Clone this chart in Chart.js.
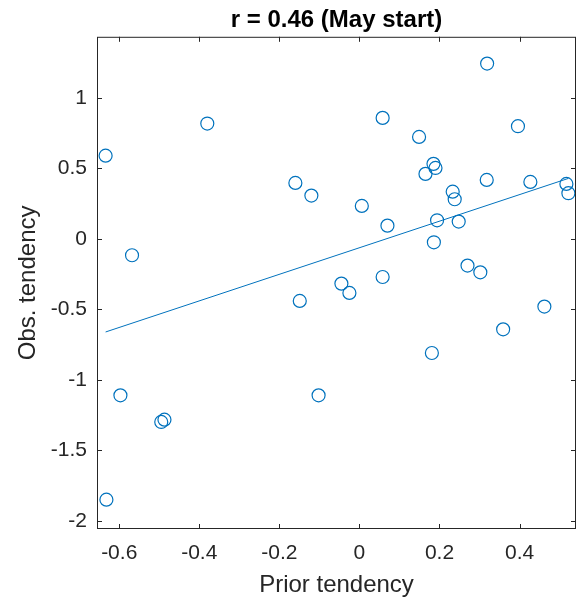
<!DOCTYPE html>
<html>
<head>
<meta charset="utf-8">
<script src="https://cdn.jsdelivr.net/npm/chart.js@4"></script>
<style>
  html, body { margin: 0; padding: 0; background: #fff; }
  #wrap { width: 578px; height: 606px; }
</style>
</head>
<body>
<div id="wrap"><canvas id="myChart"></canvas></div>
<script>
// values
const priorX = [-0.634, -0.380, -0.160, -0.120, -0.568, 0.319, 0.058, 0.396, 0.149, 0.185,
                0.190, 0.165, 0.318, 0.427, 0.517, 0.522, 0.233, 0.238, 0.006, 0.070,
                0.194, 0.248, 0.186, 0.270, 0.302, -0.045, -0.025, 0.058, 0.181, 0.359,
                0.462, -0.149, -0.597, -0.102, -0.495, -0.487, -0.632];
const obsY = [0.590, 0.818, 0.397, 0.307, -0.116, 1.243, 0.858, 0.799, 0.723, 0.532,
              0.503, 0.461, 0.418, 0.404, 0.390, 0.324, 0.335, 0.281, 0.234, 0.094,
              0.132, 0.123, -0.024, -0.189, -0.237, -0.317, -0.383, -0.270, -0.809, -0.641,
              -0.480, -0.440, -1.109, -1.109, -1.298, -1.282, -1.849];
// fitted line ends
const fitX = [-0.634, 0.522];
const fitY = [-0.660, 0.429];

const xTicks = [-0.6, -0.4, -0.2, 0, 0.2, 0.4];
const yTicks = [-2, -1.5, -1, -0.5, 0, 0.5, 1];

const blue = '#0072BD';
const axisCol = '#262626';
const fnt = 'Liberation Sans, Arial, sans-serif';

function toPoints(xs, ys) {
    return xs.map((x, i) => ({x: x, y: ys[i]}));
}

// box round the plot with ticks pointing inwards
const boxPlugin = {
    id: 'box',
    afterDraw(chart) {
        const ctx = chart.ctx;
        const a = chart.chartArea;
        const sx = chart.scales.x, sy = chart.scales.y;
        const len = 5;
        ctx.save();
        ctx.strokeStyle = axisCol;
        ctx.lineWidth = 1;
        ctx.strokeRect(a.left + 0.5, a.top + 0.5, a.right - a.left - 1, a.bottom - a.top - 1);
        ctx.beginPath();
        xTicks.forEach(v => {
            let px = Math.round(sx.getPixelForValue(v)) + 0.5;
            ctx.moveTo(px, a.bottom); ctx.lineTo(px, a.bottom - len);
            ctx.moveTo(px, a.top); ctx.lineTo(px, a.top + len);
        });
        yTicks.forEach(v => {
            let py = Math.round(sy.getPixelForValue(v)) + 0.5;
            ctx.moveTo(a.left, py); ctx.lineTo(a.left + len, py);
            ctx.moveTo(a.right, py); ctx.lineTo(a.right - len, py);
        });
        ctx.stroke();
        ctx.restore();
    }
};

new Chart(document.getElementById('myChart'), {
    type: 'scatter',
    data: {
        datasets: [{
            data: toPoints(priorX, obsY),
            pointStyle: 'circle',
            pointRadius: 6.5,
            pointHoverRadius: 6.5,
            pointBorderWidth: 1.2,
            borderColor: blue,
            backgroundColor: 'rgba(0,0,0,0)',
            showLine: false
        }, {
            data: toPoints(fitX, fitY),
            showLine: true,
            pointRadius: 0,
            borderColor: blue,
            borderWidth: 1
        }]
    },
    options: {
        responsive: true,
        maintainAspectRatio: false,
        animation: false,
        layout: { autoPadding: false, padding: { left: 0, right: 2, top: 0, bottom: 0 } },
        plugins: {
            legend: { display: false },
            tooltip: { enabled: false },
            title: {
                display: true,
                fullSize: false,
                text: 'r = 0.46 (May start)',
                color: '#000',
                font: { family: fnt, size: 24, weight: 'bold' },
                padding: { top: 6, bottom: 2 }
            }
        },
        scales: {
            x: {
                type: 'linear',
                min: -0.6555,
                max: 0.541,
                afterBuildTicks: s => { s.ticks = xTicks.map(v => ({value: v})); },
                afterFit: s => { s.height = 77; s.paddingLeft = 0; s.paddingRight = 0; },
                grid: { display: false, drawTicks: false },
                border: { display: false },
                ticks: {
                    color: axisCol,
                    font: { family: fnt, size: 21 },
                    padding: 12,
                    maxRotation: 0,
                    callback: v => String(Math.round(v * 10) / 10)
                },
                title: {
                    display: true,
                    text: 'Prior tendency',
                    color: axisCol,
                    font: { family: fnt, size: 24 },
                    padding: { top: 0, bottom: 6 }
                }
            },
            y: {
                type: 'linear',
                min: -2.057,
                max: 1.433,
                afterBuildTicks: s => { s.ticks = yTicks.map(v => ({value: v})); },
                afterFit: s => { s.width = 97; s.paddingTop = 0; s.paddingBottom = 0; },
                grid: { display: false, drawTicks: false },
                border: { display: false },
                ticks: {
                    color: axisCol,
                    font: { family: fnt, size: 21 },
                    padding: 10,
                    callback: v => String(Math.round(v * 10) / 10)
                },
                title: {
                    display: true,
                    text: 'Obs. tendency',
                    color: axisCol,
                    font: { family: fnt, size: 24 },
                    padding: { top: 14, bottom: 0 }
                }
            }
        }
    },
    plugins: [boxPlugin]
});
</script>
</body>
</html>
